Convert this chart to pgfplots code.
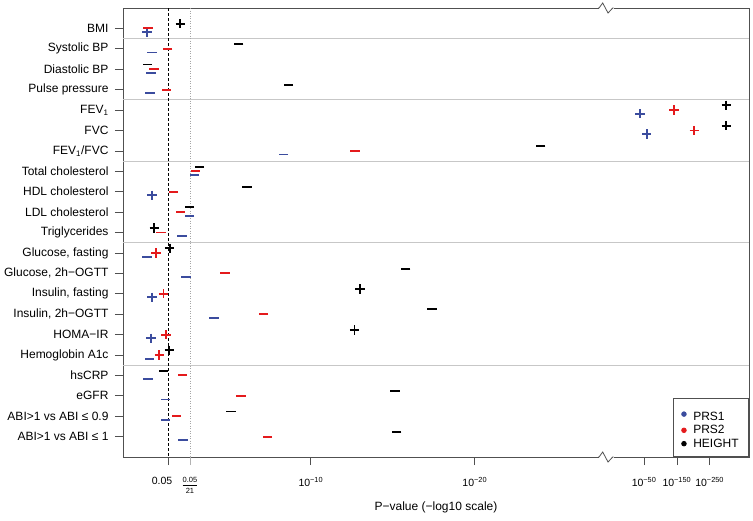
\documentclass[border=0pt]{standalone}
\usepackage{fontspec}
\setmainfont{Liberation Sans}
\usepackage{pgfplots}
\pgfplotsset{compat=1.18}
\usetikzlibrary{calc}
\definecolor{prsblue}{RGB}{59,76,158}
\definecolor{prsred}{RGB}{228,26,28}
\definecolor{framegray}{RGB}{80,80,80}
\begin{document}
\begin{tikzpicture}
\begin{axis}[
  scale only axis, width=626pt, height=449pt,
  xmin=-1.46, xmax=36.73, ymin=0, ymax=22, y dir=reverse,
  axis line style={draw=framegray, line width=0.8pt},
  tick pos=left, tick align=outside,
  major tick length=8pt,
  tick style={draw=framegray, line width=0.7pt},
  ytick={1,...,21},
  yticklabels={BMI, Systolic BP, Diastolic BP, Pulse pressure, FEV\textsubscript{1}, FVC, FEV\textsubscript{1}/FVC, Total cholesterol, HDL cholesterol, LDL cholesterol, Triglycerides, {Glucose, fasting}, {Glucose, 2h−OGTT}, {Insulin, fasting}, {Insulin, 2h−OGTT}, HOMA−IR, Hemoglobin A1c, hsCRP, eGFR, ABI>1 vs ABI ≤ 0.9, ABI>1 vs ABI ≤ 1},
  yticklabel style={font=\fontsize{12}{14}\selectfont, xshift=-3pt},
  xtick={1.30103,10,20,30.33,32.33,34.33},
  xticklabels={\kern8pt\llap{0.05}, 10\textsuperscript{−10}, 10\textsuperscript{−20}, 10\textsuperscript{−50}, 10\textsuperscript{−150}, 10\textsuperscript{−250}},
  xticklabel style={font=\fontsize{10.5}{12}\selectfont, yshift=-9pt},
  extra x ticks={2.623},
  extra x tick labels={{\fontsize{7.5}{8}\selectfont$\frac{\mbox{\rule[-2pt]{0pt}{2pt}0.05}}{\mbox{\rule{0pt}{8pt}21}}$}},
  extra x tick style={tick style={draw=gray!60}},
  extra y ticks={1.5,4.5,7.5,11.5,17.5},
  extra y tick labels={},
  extra y tick style={grid=major, major grid style={draw=black!22, line width=0.9pt}, tick style={draw=none}},
  xlabel={P−value (−log10 scale)},
  xlabel style={font=\fontsize{12}{14}\selectfont, at={(axis description cs:0.5,0)}, anchor=center, yshift=-50pt},
  legend style={at={(1,0)}, anchor=south east, draw=framegray, line width=0.8pt, font=\fontsize{12}{13}\selectfont, row sep=-0.5pt, inner xsep=8pt, inner ysep=6pt, /tikz/every odd column/.append style={column sep=5pt}},
  legend cell align=left,
  only marks,
]
\draw[black, line width=0.7pt, dash pattern=on 3pt off 2pt] (axis cs:1.30103,0) -- (axis cs:1.30103,22);
\draw[gray!70, line width=0.8pt, dash pattern=on 1pt off 1.5pt] (axis cs:2.623,0) -- (axis cs:2.623,22);

% PRS1 (blue), offset +0.18
\addplot[forget plot, prsblue, line width=1.9pt, mark=+, mark size=4.7pt] coordinates {
 (0.00,1.18) (30.08,5.18) (30.49,6.18) (0.30,9.18) (0.30,14.18) (0.26,16.18)};
\addplot[forget plot, prsblue, line width=1.9pt, mark=-, mark size=4.7pt] coordinates {
 (0.30,2.18) (0.26,3.18) (0.18,4.18) (8.33,7.18) (2.90,8.18) (2.60,10.18) (2.13,11.18)
 (0.00,12.18) (2.38,13.18) (4.10,15.18) (0.14,17.18) (0.06,18.18) (1.12,19.18) (1.12,20.18) (2.20,21.18)};
% PRS2 (red), offset 0
\addplot[forget plot, prsred, line width=1.9pt, mark=+, mark size=4.7pt] coordinates {
 (32.15,5) (33.39,6) (0.55,12) (1.01,14) (1.16,16) (0.75,17)};
\addplot[forget plot, prsred, line width=1.9pt, mark=-, mark size=4.7pt] coordinates {
 (0.06,1) (1.26,2) (0.43,3) (1.18,4) (12.70,7) (2.95,8) (1.62,9) (2.03,10) (0.85,11)
 (4.77,13) (7.11,15) (2.17,18) (5.73,19) (1.79,20) (7.35,21)};
% HEIGHT (black), offset -0.23
\addplot[forget plot, black, line width=1.9pt, mark=+, mark size=4.7pt] coordinates {
 (2.03,0.77) (35.34,4.77) (35.34,5.77) (0.45,10.77) (1.38,11.77) (13.00,13.77) (12.66,15.77) (1.36,16.77)};
\addplot[forget plot, black, line width=1.9pt, mark=-, mark size=4.7pt] coordinates {
 (5.59,1.77) (0.02,2.77) (8.63,3.77) (24.02,6.77) (3.21,7.77) (6.10,8.77) (2.60,9.77)
 (15.79,12.77) (17.38,14.77) (1.01,17.77) (15.14,18.77) (5.14,19.77) (15.24,20.77)};

\addlegendimage{only marks, mark=*, mark size=2.3pt, prsblue, draw=prsblue, fill=prsblue}
\addlegendentry{\rule{0pt}{14pt}PRS1\hspace{-6pt}}
\addlegendimage{only marks, mark=*, mark size=2.3pt, prsred, draw=prsred, fill=prsred}
\addlegendentry{PRS2\hspace{-6pt}}
\addlegendimage{only marks, mark=*, mark size=2.3pt, black, fill=black}
\addlegendentry{HEIGHT\hspace{-6pt}}
\end{axis}
% axis break zigzags
\coordinate (tb) at ($(current axis.north west)!0.7604!(current axis.north east)$);
\coordinate (bb) at ($(current axis.south west)!0.7604!(current axis.south east)$);
\fill[white] ($(tb)+(-0.5pt,-1.5pt)$) rectangle ($(tb)+(14.5pt,1.5pt)$);
\fill[white] ($(bb)+(-0.5pt,-1.5pt)$) rectangle ($(bb)+(14.5pt,1.5pt)$);
\draw[framegray, line width=0.8pt] ($(tb)+(-1pt,0)$) -- (tb) -- ++(3.7pt,5pt) -- ++(5.3pt,-10pt) -- ++(4.7pt,5pt) -- ++(1pt,0);
\draw[framegray, line width=0.8pt] ($(bb)+(-1pt,0)$) -- (bb) -- ++(3.7pt,5pt) -- ++(5.3pt,-10pt) -- ++(4.7pt,5pt) -- ++(1pt,0);
\pgfresetboundingbox
\path[use as bounding box] ($(current axis.south west)+(-123pt,-63pt)$) rectangle ($(current axis.north east)+(4pt,8pt)$);
\end{tikzpicture}
\end{document}
